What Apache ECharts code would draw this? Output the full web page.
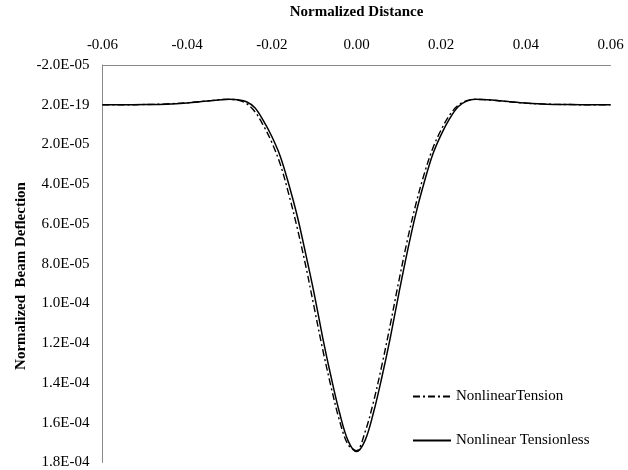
<!DOCTYPE html>
<html>
<head>
<meta charset="utf-8">
<script src="https://cdn.jsdelivr.net/npm/echarts@6/dist/echarts.min.js"></script>
<style>
  html, body { margin: 0; padding: 0; background: #fff; }
  #chart { width: 628px; height: 470px; }
</style>
</head>
<body>
<div id="chart"></div>
<script>
// 横坐标（归一化距离）
const xValues = [-0.060, -0.055, -0.050, -0.045, -0.040, -0.036, -0.034, -0.032, -0.030, -0.028, -0.026,
  -0.024, -0.022, -0.020, -0.018, -0.016, -0.014, -0.012, -0.010, -0.008, -0.006, -0.004, -0.002, 0.000,
  0.002, 0.004, 0.006, 0.008, 0.010, 0.012, 0.014, 0.016, 0.018, 0.020, 0.022, 0.024,
  0.026, 0.028, 0.030, 0.032, 0.034, 0.036, 0.040, 0.045, 0.050, 0.055, 0.060];

// NonlinearTension（点划线）
const tensionValues = [0, 0, -0.1e-6, -0.4e-6, -1.0e-6, -1.8e-6, -2.2e-6, -2.6e-6, -2.7e-6, -2.3e-6, -0.6e-6,
  3.5e-6, 10.4e-6, 1.9e-5, 3.0e-5, 4.5e-5, 6.2e-5, 8.1e-5, 1.02e-4, 1.23e-4, 1.42e-4, 1.59e-4, 1.71e-4, 1.74e-4,
  1.648e-4, 1.496e-4, 1.31e-4, 1.104e-4, 8.87e-5, 6.83e-5, 5.02e-5, 3.48e-5, 2.2e-5, 1.26e-5, 5.2e-6, 0.3e-6,
  -2.0e-6, -2.7e-6, -2.6e-6, -2.3e-6, -1.9e-6, -1.5e-6, -0.8e-6, -0.3e-6, -0.1e-6, 0, 0];

// Nonlinear Tensionless（实线）
const tensionlessValues = [0, 0, -0.1e-6, -0.3e-6, -0.9e-6, -1.7e-6, -2.1e-6, -2.5e-6, -2.8e-6, -2.5e-6, -1.5e-6,
  1.5e-6, 8.0e-6, 1.6e-5, 2.6e-5, 4.0e-5, 5.6e-5, 7.5e-5, 9.5e-5, 1.17e-4, 1.37e-4, 1.55e-4, 1.69e-4, 1.745e-4,
  1.69e-4, 1.55e-4, 1.37e-4, 1.17e-4, 9.5e-5, 7.4e-5, 5.5e-5, 3.9e-5, 2.5e-5, 1.5e-5, 7.0e-6, 1.0e-6,
  -1.8e-6, -2.8e-6, -2.7e-6, -2.4e-6, -2.0e-6, -1.6e-6, -0.9e-6, -0.3e-6, -0.1e-6, 0, 0];

const xTickLabels = ['-0.06', '-0.04', '-0.02', '0.00', '0.02', '0.04', '0.06'];
const yTickLabels = ['-2.0E-05', '2.0E-19', '2.0E-05', '4.0E-05', '6.0E-05', '8.0E-05',
  '1.0E-04', '1.2E-04', '1.4E-04', '1.6E-04', '1.8E-04'];

const xMin = -0.06, xMax = 0.06, xStep = 0.02;
const yMin = -2e-5, yMax = 1.8e-4, yStep = 2e-5;

const font = 'Liberation Serif';

let chart = echarts.init(document.getElementById('chart'));

chart.setOption({
  backgroundColor: '#fff',
  animation: false,
  grid: { left: 102.5, right: 17.5, top: 62.5, bottom: 7.5 },
  xAxis: {
    type: 'value',
    position: 'top',
    min: xMin, max: xMax, interval: xStep,
    name: 'Normalized Distance',
    nameLocation: 'middle',
    nameGap: 45,
    nameTextStyle: { fontFamily: font, fontWeight: 'bold', fontSize: 15, color: '#000' },
    axisLine: { onZero: false, lineStyle: { color: '#888', width: 1 } },
    axisTick: { show: false },
    splitLine: { show: false },
    axisLabel: {
      fontFamily: font, fontSize: 15, color: '#000', margin: 12,
      formatter: v => xTickLabels[Math.round((v - xMin) / xStep)]
    }
  },
  yAxis: {
    type: 'value',
    inverse: true,
    min: yMin, max: yMax, interval: yStep,
    axisLine: { show: true, onZero: false, lineStyle: { color: '#888', width: 1 } },
    axisTick: { show: false },
    splitLine: { show: false },
    axisLabel: {
      fontFamily: font, fontSize: 15, color: '#000', margin: 13,
      formatter: v => yTickLabels[Math.round((v - yMin) / yStep)]
    }
  },
  legend: {
    orient: 'vertical',
    left: 407, top: 384,
    itemWidth: 38, itemHeight: 14, itemGap: 29,
    itemStyle: { opacity: 0 },
    textStyle: { fontFamily: font, fontSize: 15, color: '#000' },
    data: ['NonlinearTension', 'Nonlinear Tensionless']
  },
  graphic: [{
    type: 'text',
    x: 21, y: 276,
    rotation: Math.PI / 2,
    style: {
      text: 'Normalized  Beam Deflection',
      font: 'bold 15px "Liberation Serif"',
      fill: '#000',
      align: 'center',
      verticalAlign: 'middle'
    }
  }],
  series: [
    {
      name: 'NonlinearTension',
      type: 'line',
      smooth: 0.35,
      symbol: 'none',
      data: xValues.map((x, i) => [x, tensionValues[i]]),
      itemStyle: { color: '#000' },
      lineStyle: { color: '#000', width: 1.4, type: [7, 3, 2, 3] }
    },
    {
      name: 'Nonlinear Tensionless',
      type: 'line',
      smooth: 0.35,
      symbol: 'none',
      data: xValues.map((x, i) => [x, tensionlessValues[i]]),
      itemStyle: { color: '#000' },
      lineStyle: { color: '#000', width: 1.5 }
    }
  ]
});
</script>
</body>
</html>
